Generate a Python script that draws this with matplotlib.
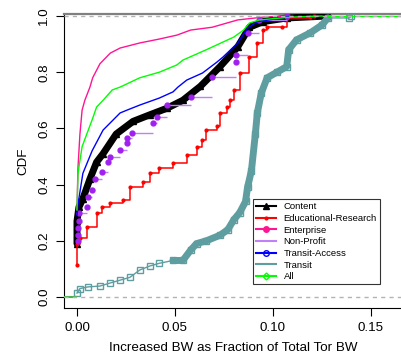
import numpy as np
import matplotlib
matplotlib.use("Agg")
from matplotlib import pyplot as plt
from matplotlib.lines import Line2D

plt.rcParams['font.family'] = ['Liberation Sans', 'DejaVu Sans']

# CDF knots (x = increased BW fraction, y = CDF)
content_x = [0.0, 0.0, 0.001, 0.003, 0.0066, 0.010, 0.0133, 0.020, 0.0286, 0.037, 0.046,
             0.054, 0.063, 0.073, 0.082, 0.088, 0.095, 0.107, 0.128]
content_y = [0.19, 0.27, 0.32, 0.35, 0.42, 0.48, 0.51, 0.58, 0.625, 0.648, 0.672,
             0.70, 0.75, 0.82, 0.89, 0.96, 0.98, 0.993, 1.0]

edu_x = [0.0, 0.0, 0.0015, 0.005, 0.0102, 0.013, 0.0168, 0.0235, 0.027, 0.0337, 0.037,
         0.042, 0.049, 0.056, 0.061, 0.064, 0.066, 0.0714, 0.073, 0.0765, 0.078, 0.080,
         0.083, 0.088, 0.092, 0.095, 0.097, 0.1046, 0.107, 0.119, 0.121]
edu_y = [0.114, 0.19, 0.21, 0.25, 0.30, 0.32, 0.334, 0.345, 0.39, 0.41, 0.44,
         0.46, 0.477, 0.505, 0.534, 0.559, 0.594, 0.61, 0.655, 0.676, 0.70, 0.737,
         0.797, 0.854, 0.904, 0.95, 0.96, 0.96, 0.993, 0.996, 1.0]

ent_x = [0.0, 0.0005, 0.0015, 0.0026, 0.004, 0.0066, 0.008, 0.0117, 0.017, 0.022, 0.032,
         0.042, 0.051, 0.058, 0.069, 0.082, 0.095, 0.107]
ent_y = [0.31, 0.46, 0.58, 0.665, 0.70, 0.747, 0.78, 0.83, 0.868, 0.886, 0.904,
         0.918, 0.932, 0.95, 0.96, 0.986, 0.996, 1.0]

np_x = [0.0005, 0.0005, 0.0005, 0.0008, 0.001, 0.005, 0.0056, 0.0077, 0.009, 0.0128,
        0.0158, 0.017, 0.022, 0.0255, 0.0255, 0.028, 0.039, 0.041, 0.046, 0.058, 0.069,
        0.081, 0.081, 0.087, 0.093, 0.107]
np_y = [0.20, 0.22, 0.245, 0.27, 0.30, 0.32, 0.356, 0.38, 0.42, 0.445,
        0.48, 0.50, 0.523, 0.548, 0.566, 0.584, 0.62, 0.64, 0.683, 0.712, 0.783,
        0.836, 0.86, 0.94, 0.986, 1.0]

ta_x = [0.0, 0.0005, 0.003, 0.0077, 0.0133, 0.022, 0.0255, 0.032, 0.042, 0.049, 0.0515,
        0.056, 0.064, 0.0714, 0.0745, 0.082, 0.087, 0.092, 0.098, 0.11]
ta_y = [0.29, 0.33, 0.44, 0.52, 0.594, 0.655, 0.665, 0.683, 0.708, 0.73, 0.747,
        0.772, 0.797, 0.836, 0.854, 0.904, 0.957, 0.98, 0.986, 1.0]

transit_x = [0.0, 0.0015, 0.0056, 0.0117, 0.017, 0.022, 0.027, 0.032, 0.037, 0.042, 0.049,
             0.054, 0.058, 0.061, 0.066, 0.073, 0.077, 0.080, 0.083, 0.086, 0.087, 0.089,
             0.091, 0.092, 0.094, 0.097, 0.102, 0.107, 0.108, 0.112, 0.119, 0.125, 0.128,
             0.139, 0.14]
transit_y = [0.014, 0.03, 0.036, 0.039, 0.05, 0.06, 0.07, 0.096, 0.11, 0.12, 0.13,
             0.13, 0.167, 0.19, 0.20, 0.22, 0.24, 0.275, 0.30, 0.34, 0.39, 0.45,
             0.58, 0.655, 0.725, 0.78, 0.80, 0.82, 0.88, 0.915, 0.94, 0.968, 0.993,
             0.993, 1.0]

all_x = [0.0, 0.0005, 0.0026, 0.005, 0.0077, 0.010, 0.0133, 0.018, 0.022, 0.032, 0.042,
         0.051, 0.054, 0.066, 0.080, 0.085, 0.088, 0.093, 0.104, 0.109, 0.125]
all_y = [0.31, 0.44, 0.535, 0.58, 0.63, 0.676, 0.70, 0.737, 0.747, 0.78, 0.80,
         0.826, 0.843, 0.88, 0.925, 0.95, 0.975, 0.986, 0.993, 0.996, 1.0]

labels = ["Content", "Educational-Research", "Enterprise", "Non-Profit",
          "Transit-Access", "Transit", "All"]

teal = "#5F9EA0"
purple = "#A020F0"

fig = plt.figure(figsize=(4.01, 3.59), dpi=100)
ax = fig.add_axes([64 / 401, 1 - 308 / 359, 346 / 401, 294 / 359])
xmin, xmax = -0.00663, 0.1699
ax.set_xlim(xmin, xmax)
ax.set_ylim(-0.0391, 1.0071)

# content: thick black band of triangles
ax.plot(content_x, content_y, color="black", lw=5, solid_capstyle="round", zorder=3)
ax.plot(content_x, content_y, "^", color="black", ms=5, zorder=3)

ax.plot(edu_x, edu_y, color="red", lw=1.1, drawstyle="steps-post", zorder=3)
ax.plot(edu_x, edu_y, ".", color="red", ms=4, zorder=3)

ax.plot(ent_x, ent_y, color="#FF1493", lw=1.0, zorder=3)

npx = np.array(np_x)
npy = np.array(np_y)
ax.hlines(npy[:-1], npx[:-1], npx[1:], color="#C080F8", lw=1.0, zorder=3)
ax.plot(npx, npy, "o", color=purple, ms=3.5, zorder=3)

ax.plot(ta_x, ta_y, color="blue", lw=1.0, zorder=3)

tx = np.array(transit_x)
ty = np.array(transit_y)
ax.plot(tx, ty, color=teal, lw=1.0, zorder=3)
ax.plot(tx, ty, "s", color=teal, mfc="none", ms=4, mew=1, zorder=3)
steep = (ty >= 0.125) & (tx <= 0.128)
ax.plot(tx[steep], ty[steep], color=teal, lw=5, solid_capstyle="round", zorder=3)

ax.plot(all_x, all_y, color="#00FF00", lw=1.0, zorder=4)
ax.hlines([0.0], xmin, all_x[0], color="#4CAF50", lw=1.5, zorder=4)
ax.hlines([1.0], all_x[-1], xmax, color="#00FF00", lw=1.0, zorder=4)

for yv in (0.0, 1.0):
    ax.axhline(yv, color="#B3B3B3", lw=1.0, linestyle=(0, (3, 3)), zorder=5)

ax.spines["right"].set_visible(False)
ax.spines["top"].set_color("#808080")
ax.spines["top"].set_linewidth(1.6)

ax.set_xticks([0.0, 0.05, 0.10, 0.15])
ax.set_xticklabels(["0.00", "0.05", "0.10", "0.15"])
ax.set_yticks([0.0, 0.2, 0.4, 0.6, 0.8, 1.0])
ax.set_yticklabels(["0.0", "0.2", "0.4", "0.6", "0.8", "1.0"], rotation=90, va="center")
ax.tick_params(labelsize=9.6, length=6, pad=4)
ax.set_xlabel("Increased BW as Fraction of Total Tor BW", fontsize=9.6)
ax.set_ylabel("CDF", fontsize=9.6)
ax.xaxis.set_label_coords(0.488, -0.115)
ax.yaxis.set_label_coords(-0.101, 0.5)

handles = [
    Line2D([], [], color="black", marker="^", ms=4),
    Line2D([], [], color="red", marker=".", ms=4),
    Line2D([], [], color="#FF1493", marker="o", ms=4),
    Line2D([], [], color="#C080F8"),
    Line2D([], [], color="blue", marker="o", mfc="none", ms=4),
    Line2D([], [], color=teal),
    Line2D([], [], color="#00FF00", marker="D", mfc="none", ms=3.5),
]
leg = ax.legend(handles, labels, loc="upper left", bbox_to_anchor=(253 / 401, 1 - 199 / 359),
                bbox_transform=fig.transFigure, fontsize=6.8, frameon=True, fancybox=False,
                borderaxespad=0, handlelength=2.1, handletextpad=0.8, labelspacing=0.28,
                borderpad=0.35)
leg.get_frame().set_edgecolor("black")
leg.get_frame().set_linewidth(0.8)

fig.savefig("out.png", dpi=100)
